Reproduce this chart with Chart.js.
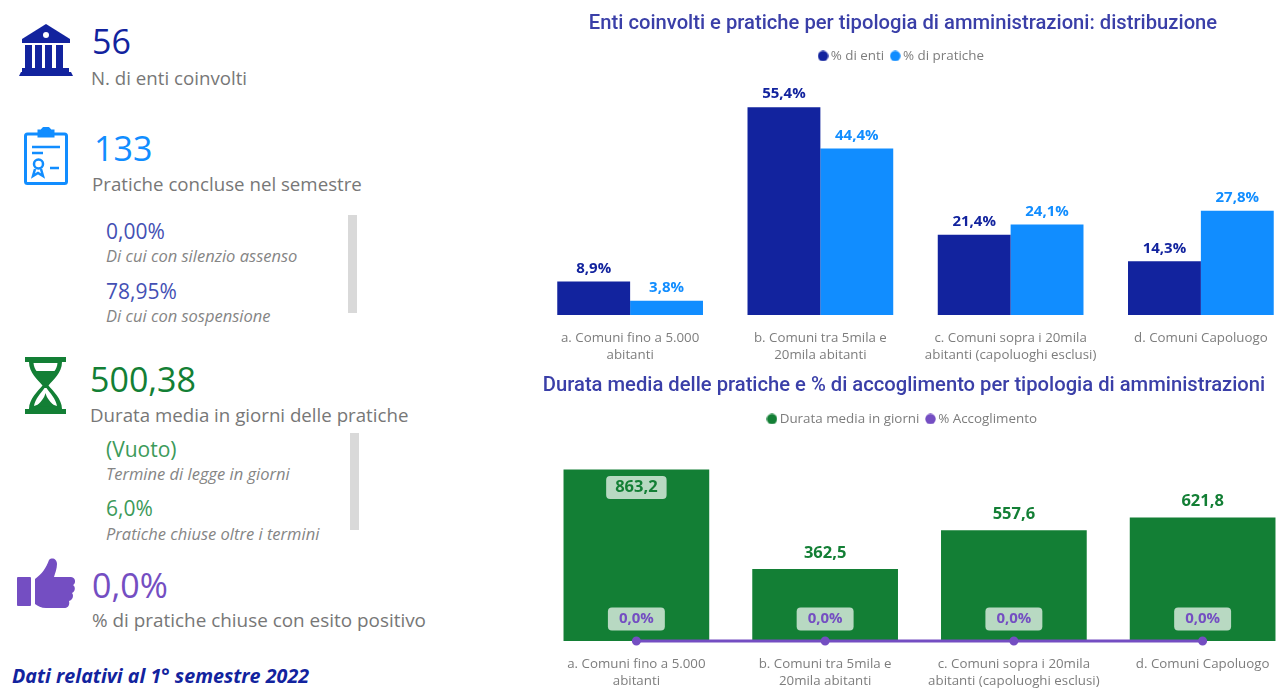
<!DOCTYPE html>
<html lang="it">
<head>
<meta charset="utf-8">
<title>Enti coinvolti e pratiche</title>
<script src="https://cdn.jsdelivr.net/npm/chart.js@4"></script>
<style>
html,body{margin:0;padding:0;width:1287px;height:695px;overflow:hidden;background:#fff;font-family:"Open Sans",sans-serif}
.t{position:absolute;white-space:nowrap;line-height:1}
.big{font-size:34px}
.cap{font-size:18.7px;color:#777}
.sub{font-size:21px}
.it{font-size:16.5px;font-style:italic;color:#858585}
.bar{position:absolute;background:#d9d9d9;width:9px}
svg{position:absolute}
canvas{position:absolute}
</style>
</head>
<body>
<svg style="left:18px;top:24px" width="56" height="53" viewBox="0 0 56 53" fill="#12239E">
  <path d="M28 0 L52 15 V19 H4 V15 Z"/><circle cx="28" cy="11" r="3" fill="#fff"/>
  <rect x="7" y="21" width="7" height="23"/><rect x="17" y="21" width="7" height="23"/><rect x="27" y="21" width="7" height="23"/><rect x="38" y="21" width="7" height="23"/>
  <rect x="4" y="44" width="47" height="4"/><path d="M3 48 H53 L55 52 H1 Z"/>
</svg>
<svg style="left:23px;top:127px" width="46" height="59" viewBox="0 0 46 59" fill="none" stroke="#118DFF" stroke-width="3">
  <rect x="2.5" y="7" width="41" height="49.5" rx="2"/>
  <path d="M16 7 V4 H19 A4 3 0 0 1 27 4 H30 V9 H16 Z" fill="#118DFF"/>
  <path d="M9 20 H37 M9 26 H20 M27 41 H36" stroke-width="2.5"/>
  <circle cx="15.5" cy="37" r="4.5" stroke-width="2.5"/>
  <path d="M12 42 L10 49 L15 46 L20 49 L18 42" stroke-width="2.5"/>
</svg>
<svg style="left:25px;top:357px" width="42" height="58" viewBox="0 0 42 58" fill="#137F35">
  <rect x="0" y="0" width="41" height="5"/><rect x="0" y="52" width="41" height="5"/>
  <path d="M4 5 H37 C37 16 28 23 23.5 28.5 C28 34 37 42 37 52 H4 C4 42 13 34 17.5 28.5 C13 23 4 16 4 5 Z"/>
  <path d="M8.5 6 H32.5 C32 10 31 12 29.5 14 H11.5 C10 12 9 10 8.5 6 Z" fill="#fff"/>
  <path d="M19.5 31 C16 36 10 42 9 49 C13 48 17 46 20.5 42 C24 46 28 48 32 49 C31 42 25 36 21.5 31 Z" fill="#fff"/>
  <path d="M20.5 36 C19.5 41 15 46 11 49.5 H30 C26 46 21.5 41 20.5 36 Z"/>
</svg>
<svg style="left:16px;top:558px" width="60" height="52" viewBox="0 0 60 52" fill="#744EC2">
  <rect x="1" y="19" width="14" height="29" rx="1"/>
  <path d="M19 21 C26 16 30 10 33 2 C36 -1 41 1 41 6 C41 11 39 15 38 19 H55 C60 19 60 26 57 27 C60 29 59 34 56 35 C58 37 57 42 53 43 C54 47 52 50 48 50 H30 C25 50 22 48 19 46 Z"/>
</svg>

<div class="t big" id="kpi1" style="left:92px;top:24px;color:#12239E">56</div>
<div class="t cap" style="left:91px;top:69px">N. di enti coinvolti</div>
<div class="t big" id="kpi2" style="left:94px;top:131px;color:#118DFF">133</div>
<div class="t cap" style="left:92px;top:175px">Pratiche concluse nel semestre</div>
<div class="t sub" style="left:106px;top:221px;color:#4450B4">0,00%</div>
<div class="t it" style="left:106px;top:248px">Di cui con silenzio assenso</div>
<div class="t sub" style="left:106px;top:281px;color:#4450B4">78,95%</div>
<div class="t it" style="left:106px;top:308px">Di cui con sospensione</div>
<div class="bar" style="left:348px;top:215px;height:98px"></div>
<div class="t big" id="kpi3" style="left:90px;top:362px;color:#137F35">500,38</div>
<div class="t cap" style="left:90px;top:406px">Durata media in giorni delle pratiche</div>
<div class="t sub" style="left:106px;top:439px;color:#3C9A5A">(Vuoto)</div>
<div class="t it" style="left:106px;top:466px">Termine di legge in giorni</div>
<div class="t sub" style="left:106px;top:498px;color:#3C9A5A">6,0%</div>
<div class="t it" style="left:106px;top:526px">Pratiche chiuse oltre i termini</div>
<div class="bar" style="left:350px;top:433px;height:97px"></div>
<div class="t big" id="kpi4" style="left:92px;top:568px;color:#744EC2">0,0%</div>
<div class="t cap" style="left:92px;top:611px;font-size:18.9px">% di pratiche chiuse con esito positivo</div>
<div class="t" style="left:12px;top:666px;font-size:19.7px;font-weight:700;font-style:italic;color:#12239E">Dati relativi al 1° semestre 2022</div>

<canvas id="c1" style="left:510px;top:0" width="786" height="371"></canvas>
<canvas id="c2" style="left:511px;top:368px" width="786" height="329"></canvas>

<script>
const categories = [
  ["a. Comuni fino a 5.000", "abitanti"],
  ["b. Comuni tra 5mila e", "20mila abitanti"],
  ["c. Comuni sopra i 20mila", "abitanti (capoluoghi esclusi)"],
  ["d. Comuni Capoluogo"]
];
const pctEnti = [8.9, 55.4, 21.4, 14.3];
const pctPratiche = [3.8, 44.4, 24.1, 27.8];
const durataMedia = [863.2, 362.5, 557.6, 621.8];
const pctAccoglimento = [0.0, 0.0, 0.0, 0.0];

const NAVY = "#12239E", BLUE = "#118DFF", GREEN = "#137F35", PURPLE = "#744EC2";
const GREY = "#7d7d7d", TITLE = "#3A3FA8";
const FONT = '"Open Sans", sans-serif';
const TITLE_FONT = 'Roboto, sans-serif';
const comma = (v, d) => v.toFixed(d).replace(".", ",");

function roundRect(ctx, x, y, w, h, r) {
  ctx.beginPath();
  ctx.roundRect(x, y, w, h, r);
  ctx.fill();
}

function dot(color) {
  const c = document.createElement("canvas");
  c.width = 11; c.height = 11;
  const g = c.getContext("2d");
  g.fillStyle = color;
  g.beginPath();
  g.arc(5.5, 5.5, 5.2, 0, Math.PI * 2);
  g.fill();
  return c;
}

const valueLabels = {
  id: "valueLabels",
  afterDatasetsDraw(chart) {
    const ctx = chart.ctx;
    chart.data.datasets.forEach((ds, i) => {
      const cfg = ds.valueLabel;
      if (!cfg) return;
      chart.getDatasetMeta(i).data.forEach((el, j) => {
        const v = ds.data[j];
        const inside = cfg.insideAbove !== undefined && v > cfg.insideAbove;
        const boxed = cfg.boxed || inside;
        const y = el.y + (inside ? cfg.insideOffset : cfg.offset);
        const text = comma(v, 1) + cfg.suffix;
        ctx.save();
        ctx.font = cfg.font;
        ctx.textAlign = "center";
        ctx.textBaseline = "middle";
        if (boxed) {
          const w = ctx.measureText(text).width + cfg.boxPad * 2;
          ctx.fillStyle = "rgba(255,255,255,0.7)";
          roundRect(ctx, el.x - w / 2, y - 11.5, w, 23, 4);
        }
        ctx.fillStyle = cfg.color;
        ctx.fillText(text, el.x, y);
        ctx.restore();
      });
    });
  }
};

const legendLabels = (reverse) => ({
  usePointStyle: true, boxHeight: 8, pointStyleWidth: 2,
  color: GREY, padding: 10, font: {family: FONT, size: 13.4},
  generateLabels(chart) {
    const items = Chart.defaults.plugins.legend.labels.generateLabels(chart)
      .map(it => ({...it, pointStyle: dot(it.fillStyle)}));
    return reverse ? items.reverse() : items;
  }
});
const xAxis = (size, padding) => ({
  grid: {display: false}, border: {display: false},
  ticks: {color: GREY, padding, maxRotation: 0, minRotation: 0, autoSkip: false,
          font: {family: FONT, size, lineHeight: 17 / size}}
});
const hiddenY = (min, max) => ({display: false, min, max, grid: {display: false}});
/* Left axis without ink: it only reserves room so the title stays centred on the full canvas. */
const spacerY = (min, max, width) => ({
  display: true, min, max, position: "left",
  grid: {display: false}, border: {display: false}, ticks: {display: false},
  afterFit(s) { s.width = width; }
});

new Chart(document.getElementById("c1"), {
  type: "bar",
  plugins: [valueLabels],
  data: {
    labels: categories,
    datasets: [
      {label: "% di enti", data: pctEnti, backgroundColor: NAVY,
       valueLabel: {offset: -13, color: NAVY, suffix: "%", font: `700 15px ${FONT}`}},
      {label: "% di pratiche", data: pctPratiche, backgroundColor: BLUE,
       valueLabel: {offset: -13, color: BLUE, suffix: "%", font: `700 15px ${FONT}`}}
    ]
  },
  options: {
    responsive: false, animation: false,
    categoryPercentage: 0.766, barPercentage: 1,
    layout: {autoPadding: false, padding: {left: 0, top: 12, bottom: 0, right: 0}},
    plugins: {
      tooltip: {enabled: false},
      title: {display: true, text: "Enti coinvolti e pratiche per tipologia di amministrazioni: distribuzione",
              color: TITLE, font: {family: TITLE_FONT, size: 20.2, weight: "500"}, padding: {top: 0, bottom: 3}},
      legend: {labels: legendLabels(false)}
    },
    scales: {x: xAxis(13.3, 7), y: spacerY(0, 64.6, 25)}
  }
});

new Chart(document.getElementById("c2"), {
  data: {
    labels: categories,
    datasets: [
      {type: "line", label: "% Accoglimento", data: pctAccoglimento, yAxisID: "y1", order: 0,
       borderColor: PURPLE, backgroundColor: PURPLE, borderWidth: 3, pointRadius: 3, clip: false,
       valueLabel: {offset: -22, color: PURPLE, suffix: "%", boxed: true, boxPad: 11, font: `700 15px ${FONT}`}},
      {type: "bar", label: "Durata media in giorni", data: durataMedia, yAxisID: "y", order: 1,
       backgroundColor: GREEN,
       valueLabel: {offset: -16, insideAbove: 800, insideOffset: 18, boxPad: 9, color: GREEN, suffix: "", font: `700 16.5px ${FONT}`}}
    ]
  },
  plugins: [valueLabels],
  options: {
    responsive: false, animation: false,
    categoryPercentage: 0.772, barPercentage: 1,
    layout: {autoPadding: false, padding: {left: 0, top: 6, bottom: 0, right: 0}},
    plugins: {
      tooltip: {enabled: false},
      title: {display: true, text: "Durata media delle pratiche e % di accoglimento per tipologia di amministrazioni",
              color: TITLE, font: {family: TITLE_FONT, size: 20.2, weight: "500"}, padding: {top: 0, bottom: 4}},
      legend: {labels: legendLabels(true)}
    },
    scales: {x: xAxis(13.3, 7), y: spacerY(0, 1034, 31), y1: {...hiddenY(0, 100), position: "right"}}
  }
});
</script>
</body>
</html>
